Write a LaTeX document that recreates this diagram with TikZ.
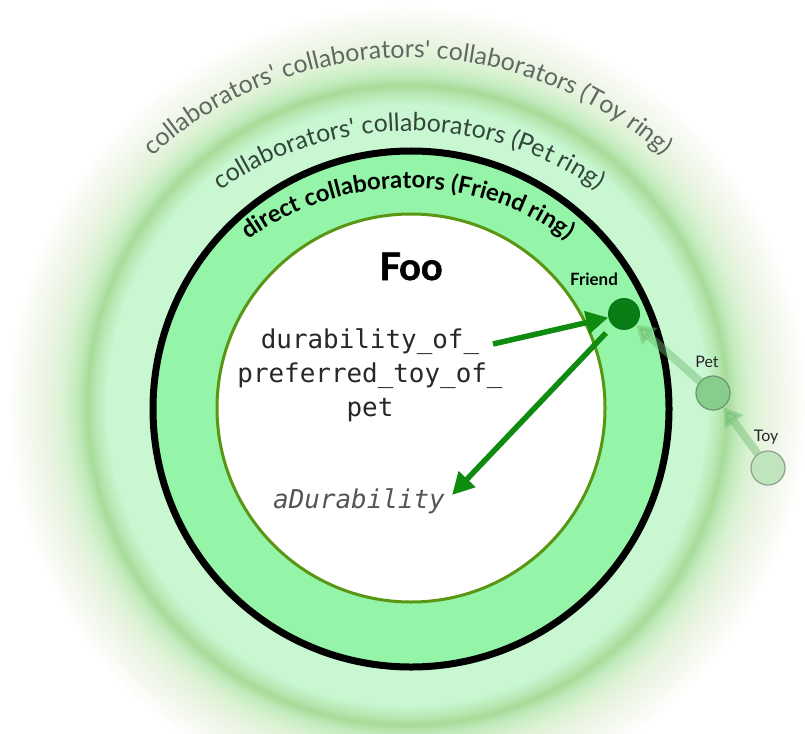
\documentclass[tikz,border=0pt]{standalone}
\usepackage{fontspec}
\setmainfont{Lato}
\newfontfamily\codefont{DejaVu Sans Mono}
\newfontfamily\foofont[FakeBold=1.6]{Lato}
\usetikzlibrary{decorations.text, arrows.meta, calc}

\definecolor{ringfill}{RGB}{148,245,168}
\definecolor{olivebord}{RGB}{88,150,20}
\definecolor{arrowG}{RGB}{15,140,15}
\definecolor{friendG}{RGB}{8,125,22}
\definecolor{petG}{RGB}{135,205,140}
\definecolor{petB}{RGB}{105,150,110}
\definecolor{toyG}{RGB}{192,228,190}
\definecolor{toyB}{RGB}{140,160,140}
\definecolor{toyTxt}{RGB}{95,105,98}
\definecolor{petTxt}{RGB}{50,70,58}
\definecolor{codeTxt}{RGB}{40,40,40}
\definecolor{adurTxt}{RGB}{85,85,85}

\pgfdeclareradialshading{glowshade}{\pgfpointorigin}{%
rgb(0bp)=(0.784,0.969,0.824);
rgb(300bp)=(0.784,0.969,0.824);
rgb(312bp)=(0.72,0.91,0.70);
rgb(320bp)=(0.66,0.86,0.60);
rgb(330bp)=(0.76,0.92,0.74);
rgb(345bp)=(0.86,0.95,0.83);
rgb(365bp)=(0.93,0.96,0.90);
rgb(385bp)=(0.97,0.98,0.95);
rgb(400bp)=(1,1,1);
rgb(420bp)=(1,1,1)}

\begin{document}
\begin{tikzpicture}[x=1bp,y=-1bp,
  ringnode/.style={circle, inner sep=0pt},
  mainarrow/.style={draw=arrowG, line width=5.5bp, -{Triangle[length=22bp,width=22bp]}},
  faintarrow/.style={draw=arrowG!60, opacity=0.45, line width=8bp, -{Triangle[length=18bp,width=22bp]}},
  smalllabel/.style={font=\fontsize{16}{18}\selectfont, text=black!85}
]
\useasboundingbox (0,0) rectangle (805,734);
\clip (0,0) rectangle (805,734);

% glow background
\node[inner sep=0pt] (glow) at (407,405) {\pgfuseshading{glowshade}};

% rings
\node[ringnode, minimum size=516bp, fill=ringfill, draw=black, line width=7bp] (friendring) at (411,409) {};
\node[ringnode, minimum size=388bp, fill=white, draw=olivebord, line width=3bp] (fooarea) at (411,408) {};

% ring texts
\coordinate (tc) at (408,440);
\coordinate (pc) at (409,460);
\coordinate (fc) at (408,460);
\path[decorate, decoration={text along path, text align=center, text color=toyTxt,
  text={|\fontsize{25}{29}\selectfont|collaborators{\textquotesingle} collaborators{\textquotesingle} collaborators (Toy ring)}}]
  ($(tc)+(150:382bp)$) arc[start angle=150, end angle=30, radius=382bp];
\path[decorate, decoration={text along path, text align=center, text color=petTxt,
  text={|\fontsize{25}{29}\selectfont|collaborators{\textquotesingle} collaborators (Pet ring)}}]
  ($(pc)+(145:329bp)$) arc[start angle=145, end angle=35, radius=329bp];
\path[decorate, decoration={text along path, text align=center, text color=black,
  text={|\bfseries\fontsize{24}{28}\selectfont|direct collaborators (Friend ring)}}]
  ($(fc)+(145:272bp)$) arc[start angle=145, end angle=35, radius=272bp];

% texts inside
\node[font=\foofont\bfseries\fontsize{38}{40}\selectfont, anchor=base] (foo) at (411,280) {Foo};
\node[font=\codefont\fontsize{26}{34}\selectfont, text=codeTxt, align=center] (code) at (370,375)
  {durability\_of\_\\preferred\_toy\_of\_\\pet};
\node[font=\codefont\itshape\fontsize{26}{30}\selectfont, text=adurTxt, anchor=base] (adur) at (359,508) {aDurability};

% collaborator nodes
\node[ringnode, minimum size=32bp, fill=friendG] (friend) at (624,314) {};
\node[font=\bfseries\fontsize{17}{20}\selectfont] (friendlabel) at (594,279) {Friend};
\node[ringnode, minimum size=34bp, fill=petG, draw=petB, line width=1.2bp] (pet) at (713,393) {};
\node[smalllabel] (petlabel) at (707,362) {Pet};
\node[ringnode, minimum size=34bp, fill=toyG, draw=toyB, line width=1.2bp] (toy) at (768,468) {};
\node[smalllabel] (toylabel) at (766,437) {Toy};

% arrows
\coordinate (dstart) at (493,344);
\coordinate (adtip) at (452,495);
\draw[mainarrow] (dstart) -- (friend);
\draw[mainarrow, shorten <=10bp] (friend) -- (adtip);
\draw[faintarrow] (pet) -- (friend);
\draw[faintarrow] (toy) -- (pet);
\end{tikzpicture}
\end{document}
